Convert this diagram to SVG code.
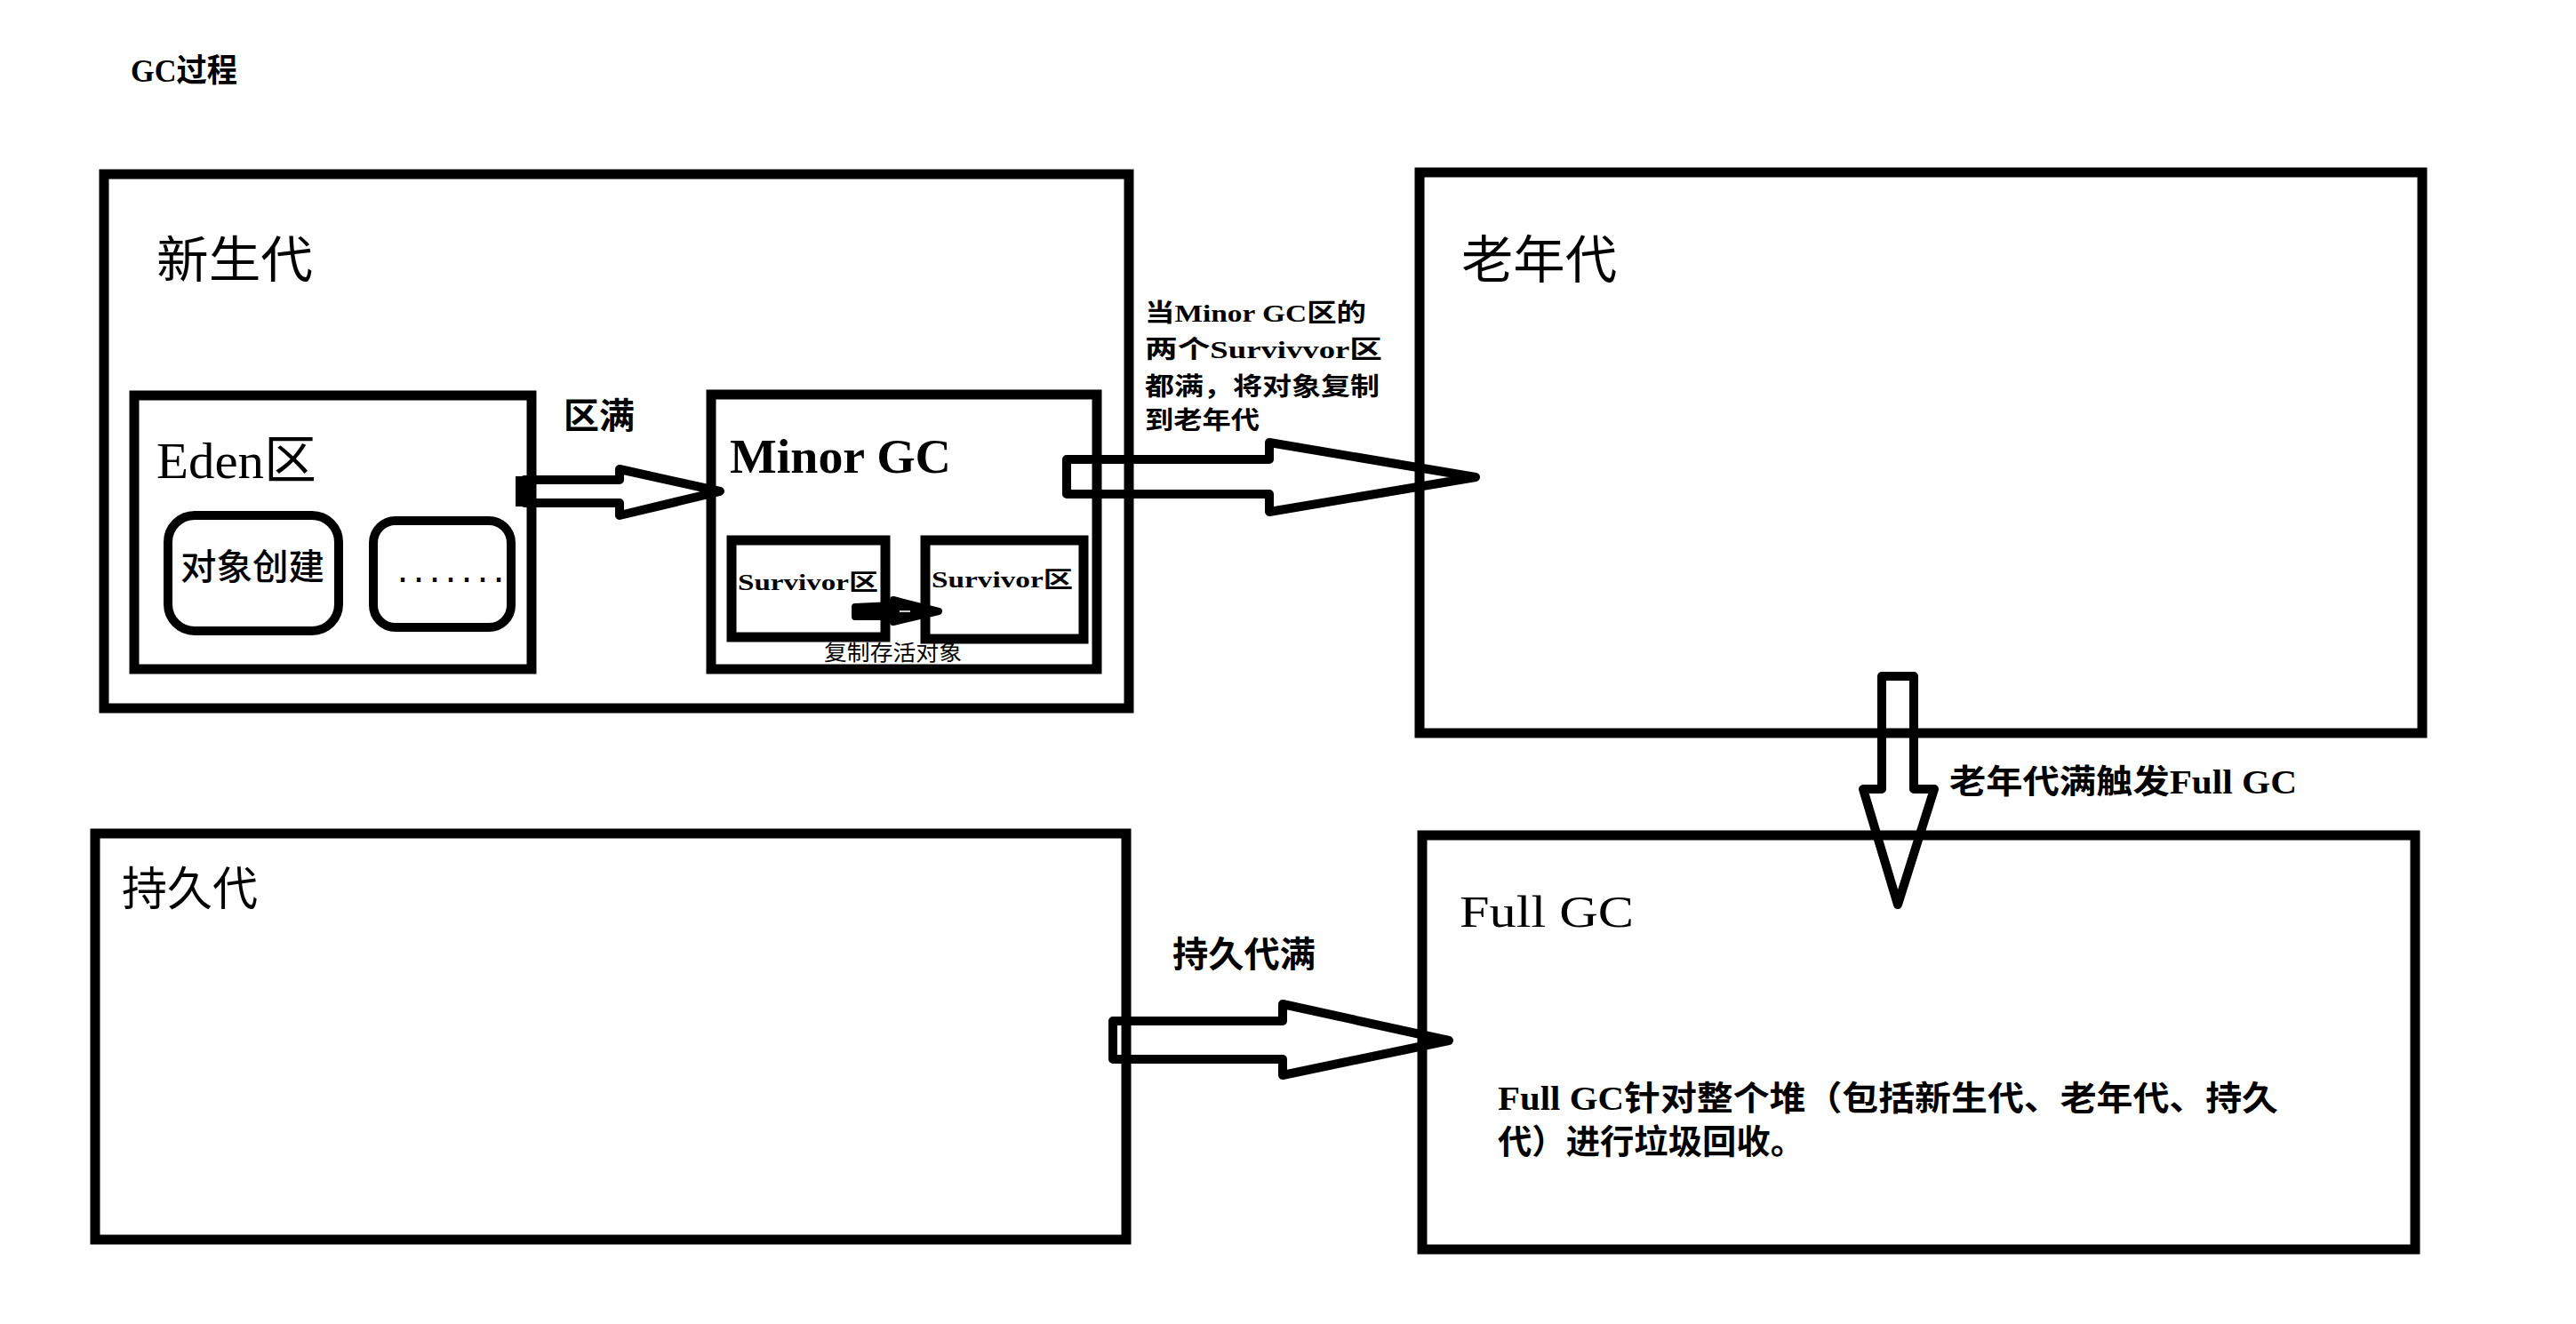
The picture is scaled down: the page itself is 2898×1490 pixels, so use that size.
<svg xmlns="http://www.w3.org/2000/svg" width="2898" height="1490" viewBox="0 0 2898 1490">
<defs>
<style>
.box{fill:none;stroke:#000;stroke-width:11}
.rbox{fill:none;stroke:#000;stroke-width:10}
.arr{fill:none;stroke:#000;stroke-width:10;stroke-linejoin:round}
.cjk{font-family:"Noto Sans CJK SC","Noto Sans",sans-serif;fill:#000}
.mono{font-family:"Liberation Mono","Noto Sans CJK SC",monospace;fill:#000}
.ser{font-family:"Liberation Serif","Noto Sans CJK SC",serif;fill:#000}
.b{font-weight:bold}
</style>
</defs>
<rect width="2898" height="1490" fill="#fff"/>
<text class="ser b" x="147" y="92" font-size="36" textLength="120" lengthAdjust="spacingAndGlyphs">GC过程</text>

<g id="young">
<rect class="box" x="117" y="196" width="1153" height="601"/>
<text class="cjk" x="176" y="312" font-size="56" textLength="176" lengthAdjust="spacingAndGlyphs">新生代</text>
</g>
<g id="eden">
<rect class="box" x="151" y="445" width="447" height="308"/>
<text class="ser" x="176" y="538" font-size="58" textLength="180" lengthAdjust="spacingAndGlyphs">Eden区</text>
</g>
<g id="create">
<rect class="rbox" x="189" y="580" width="192" height="130" rx="30"/>
<text class="cjk" x="203" y="652" font-size="40" font-weight="500" textLength="162" lengthAdjust="spacingAndGlyphs">对象创建</text>
</g>
<g id="dots">
<rect class="rbox" x="420" y="586" width="155" height="120" rx="25"/>
<text class="mono b" x="444" y="655" font-size="34" textLength="126" lengthAdjust="spacingAndGlyphs">.......</text>
</g>
<g id="minor">
<rect class="box" x="800" y="444" width="434" height="309"/>
<text class="ser b" x="821" y="532" font-size="54" textLength="249" lengthAdjust="spacingAndGlyphs">Minor GC</text>
</g>
<g id="surv1">
<rect class="box" x="823" y="608" width="173" height="109"/>
<text class="ser b" x="830" y="664" font-size="25" textLength="158" lengthAdjust="spacingAndGlyphs">Survivor区</text>
</g>
<g id="surv2">
<rect class="box" x="1041" y="608" width="178" height="111"/>
<text class="ser b" x="1048" y="661" font-size="25" textLength="159" lengthAdjust="spacingAndGlyphs">Survivor区</text>
</g>
<g id="old">
<rect class="box" x="1597" y="194" width="1128" height="631"/>
<text class="cjk" x="1644" y="313" font-size="58" textLength="175" lengthAdjust="spacingAndGlyphs">老年代</text>
</g>
<g id="perm">
<rect class="box" x="107" y="938" width="1160" height="457"/>
<text class="cjk" x="137" y="1019" font-size="52" textLength="153" lengthAdjust="spacingAndGlyphs">持久代</text>
</g>
<g id="fullgc">
<rect class="box" x="1600" y="940" width="1117" height="466"/>
<text class="ser" x="1642" y="1043" font-size="50" textLength="196" lengthAdjust="spacingAndGlyphs">Full GC</text>
<text class="ser b" x="1685" y="1249" font-size="38" textLength="878" lengthAdjust="spacingAndGlyphs">Full GC针对整个堆（包括新生代、老年代、持久</text>
<text class="ser b" x="1685" y="1298" font-size="38" textLength="345" lengthAdjust="spacingAndGlyphs">代）进行垃圾回收。</text>
</g>

<g id="connectors">
<polygon class="arr" points="590,540 697,540 697,528 810,553 697,580 697,566 590,566"/>
<rect x="580" y="536" width="16" height="34" fill="#000"/>
<text class="cjk b" x="634" y="482" font-size="40" textLength="80" lengthAdjust="spacingAndGlyphs">区满</text>

<polygon points="962,683 1005,681 1005,675 1056,688 1005,700 1005,694 962,694" fill="#000" stroke="#000" stroke-width="8" stroke-linejoin="round"/>
<line x1="1012" y1="688" x2="1024" y2="688" stroke="#ccc" stroke-width="2"/>
<text class="cjk" x="927" y="743" font-size="24" textLength="155" lengthAdjust="spacingAndGlyphs">复制存活对象</text>

<polygon class="arr" points="1200,517 1428,517 1428,498 1660,537 1428,576 1428,556 1200,556"/>
<text class="ser b" x="1288" y="362" font-size="28" textLength="249" lengthAdjust="spacingAndGlyphs">当Minor GC区的</text>
<text class="ser b" x="1288" y="403" font-size="28" textLength="267" lengthAdjust="spacingAndGlyphs">两个Survivvor区</text>
<text class="ser b" x="1288" y="445" font-size="28" textLength="264" lengthAdjust="spacingAndGlyphs">都满，将对象复制</text>
<text class="ser b" x="1288" y="483" font-size="28" textLength="129" lengthAdjust="spacingAndGlyphs">到老年代</text>

<polygon class="arr" points="2117,761 2153,761 2153,888 2176,888 2135,1018 2096,888 2117,888"/>
<text class="ser b" x="2193" y="893" font-size="37" textLength="391" lengthAdjust="spacingAndGlyphs">老年代满触发Full GC</text>

<polygon class="arr" points="1252,1149 1443,1149 1443,1130 1630,1171 1443,1210 1443,1192 1252,1192"/>
<text class="cjk b" x="1319" y="1088" font-size="40" textLength="161" lengthAdjust="spacingAndGlyphs">持久代满</text>
</g>
</svg>
